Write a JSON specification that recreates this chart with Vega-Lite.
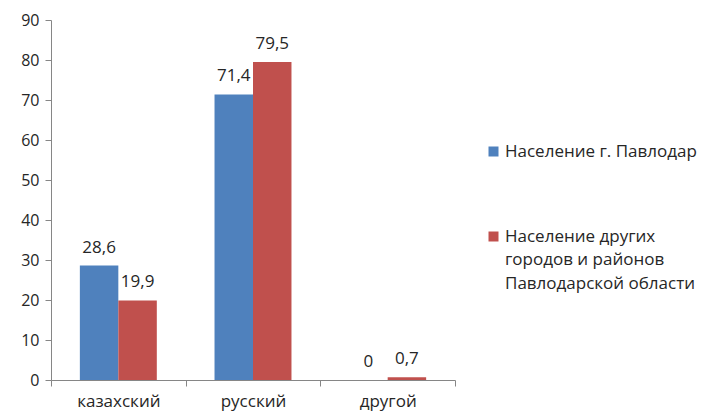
{
  "$schema": "https://vega.github.io/schema/vega-lite/v6.json",
  "width": 404,
  "height": 360,
  "autosize": "none",
  "padding": {"left": 51, "top": 20, "right": 247, "bottom": 36},
  "config": {
    "view": {"stroke": null},
    "font": "Open Sans",
    "locale": {"number": {"decimal": ",", "thousands": " ", "grouping": [3], "currency": ["", ""]}},
    "style": {"guide-label": {"lineHeight": 23.5}}
  },
  "data": {
    "values": [
      {"lang": "казахский", "series": "Население г. Павлодар", "value": 28.6},
      {"lang": "казахский", "series": "Население других городов и районов Павлодарской области", "value": 19.9},
      {"lang": "русский", "series": "Население г. Павлодар", "value": 71.4},
      {"lang": "русский", "series": "Население других городов и районов Павлодарской области", "value": 79.5},
      {"lang": "другой", "series": "Население г. Павлодар", "value": 0},
      {"lang": "другой", "series": "Население других городов и районов Павлодарской области", "value": 0.7}
    ]
  },
  "encoding": {
    "x": {
      "field": "lang", "type": "nominal", "sort": null,
      "scale": {"paddingInner": 0, "paddingOuter": 0},
      "axis": {"title": null, "labelAngle": 0, "tickBand": "extent", "domainColor": "#868686", "tickColor": "#868686", "tickSize": 6, "labelFontSize": 17, "labelColor": "#262626", "labelPadding": 7, "grid": false}
    },
    "xOffset": {"field": "series", "type": "nominal", "sort": null, "scale": {"paddingOuter": 0.75, "paddingInner": 0}},
    "y": {
      "field": "value", "type": "quantitative",
      "scale": {"domain": [0, 90], "nice": false},
      "axis": {"title": null, "values": [0, 10, 20, 30, 40, 50, 60, 70, 80, 90], "grid": false, "domainColor": "#868686", "tickColor": "#868686", "tickSize": 6, "labelFontSize": 16, "labelColor": "#262626", "labelPadding": 6}
    }
  },
  "layer": [
    {
      "mark": {"type": "bar"},
      "encoding": {
        "color": {
          "field": "series", "type": "nominal",
          "scale": {"domain": ["Население г. Павлодар", "Население других городов и районов Павлодарской области"], "range": ["#4F81BD", "#C0504D"]},
          "legend": {
            "orient": "none", "legendX": 434, "legendY": 123, "title": null,
            "symbolType": "square", "symbolSize": 100, "symbolStrokeWidth": 0,
            "labelFontSize": 17, "labelColor": "#262626", "labelOffset": 3, "labelLimit": 300,
            "rowPadding": 67,
            "labelExpr": "datum.label == 'Население других городов и районов Павлодарской области' ? ['Население других', 'городов и районов', 'Павлодарской области'] : datum.label"
          }
        }
      }
    },
    {
      "mark": {"type": "text", "dy": -18, "fontSize": 17, "color": "#262626"},
      "encoding": {"text": {"field": "value", "type": "quantitative", "format": ".1~f"}}
    }
  ]
}
